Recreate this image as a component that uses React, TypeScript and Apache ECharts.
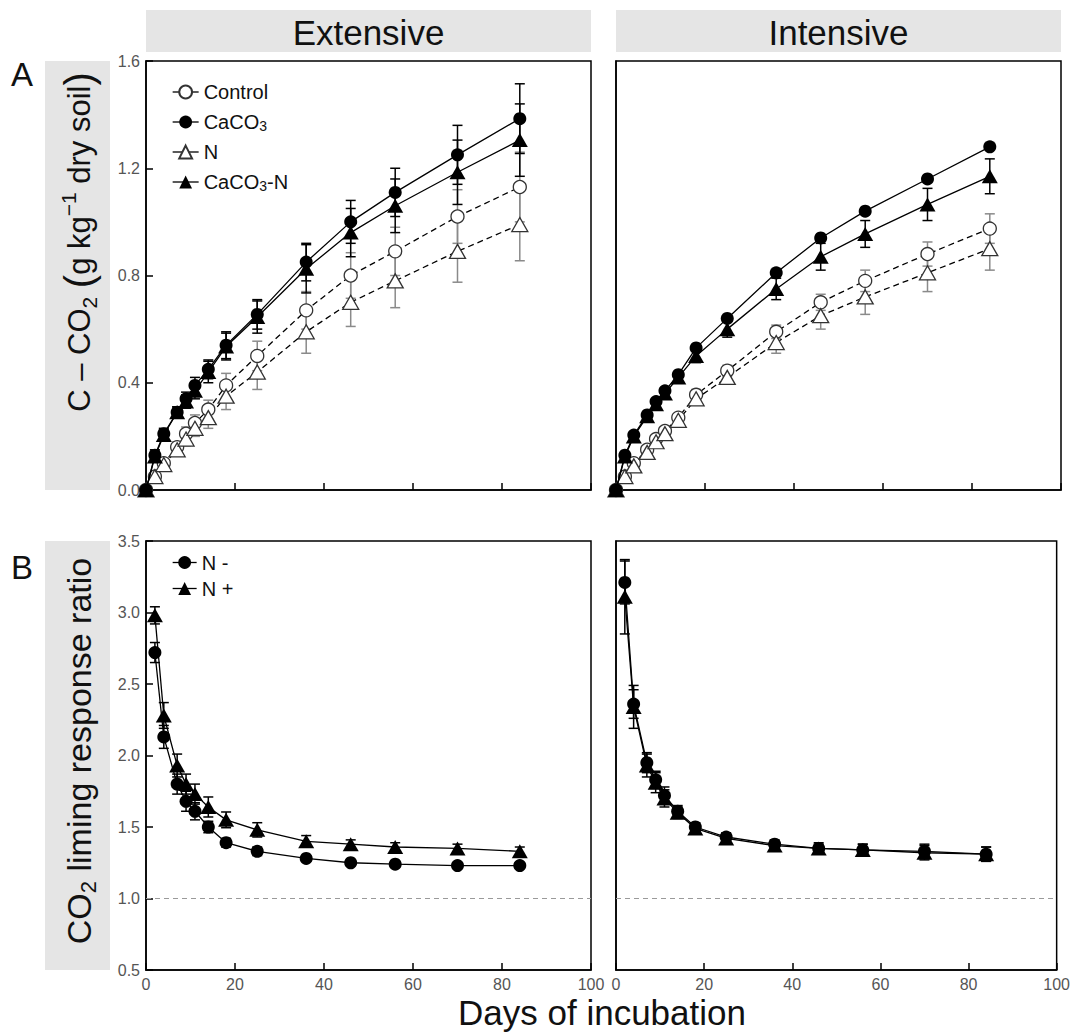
import React, { useEffect, useRef } from 'react';
import * as echarts from 'echarts';

const FONT = "'Liberation Sans', Arial, Helvetica, sans-serif";

// ---------- data ----------
const daysA = [0, 2, 4, 7, 9, 11, 14, 18, 25, 36, 46, 56, 70, 84];
const daysB = [2, 4, 7, 9, 11, 14, 18, 25, 36, 46, 56, 70, 84];

// Panel A, Extensive: C-CO2 (g kg-1 dry soil)
const extControl = [0, 0.05, 0.10, 0.16, 0.21, 0.25, 0.30, 0.39, 0.50, 0.67, 0.80, 0.89, 1.02, 1.13];
const extControlErr = [0, 0.01, 0.015, 0.02, 0.025, 0.03, 0.035, 0.045, 0.055, 0.07, 0.085, 0.09, 0.10, 0.13];
const extCaCO3 = [0, 0.13, 0.21, 0.29, 0.34, 0.39, 0.45, 0.54, 0.655, 0.85, 1.0, 1.11, 1.25, 1.385];
const extCaCO3Err = [0, 0.02, 0.02, 0.02, 0.025, 0.03, 0.035, 0.05, 0.055, 0.07, 0.08, 0.09, 0.11, 0.13];
const extN = [0, 0.05, 0.095, 0.15, 0.19, 0.23, 0.27, 0.35, 0.44, 0.59, 0.70, 0.78, 0.89, 0.99];
const extNErr = [0, 0.01, 0.015, 0.02, 0.025, 0.03, 0.04, 0.05, 0.065, 0.08, 0.09, 0.10, 0.115, 0.135];
const extCaCO3N = [0, 0.125, 0.205, 0.29, 0.33, 0.37, 0.44, 0.535, 0.645, 0.825, 0.96, 1.06, 1.185, 1.305];
const extCaCO3NErr = [0, 0.02, 0.02, 0.02, 0.025, 0.03, 0.04, 0.05, 0.06, 0.09, 0.09, 0.10, 0.12, 0.135];

// Panel A, Intensive
const intControl = [0, 0.05, 0.10, 0.15, 0.19, 0.22, 0.27, 0.355, 0.445, 0.59, 0.70, 0.78, 0.88, 0.975];
const intControlErr = [0, 0.01, 0.01, 0.01, 0.01, 0.015, 0.015, 0.02, 0.02, 0.025, 0.03, 0.04, 0.045, 0.055];
const intCaCO3 = [0, 0.13, 0.205, 0.28, 0.33, 0.37, 0.43, 0.53, 0.64, 0.81, 0.94, 1.04, 1.16, 1.28];
const intCaCO3Err = [0, 0.005, 0.005, 0.005, 0.006, 0.006, 0.007, 0.008, 0.008, 0.01, 0.01, 0.01, 0.01, 0.01];
const intN = [0, 0.05, 0.09, 0.14, 0.18, 0.21, 0.26, 0.34, 0.42, 0.55, 0.65, 0.72, 0.81, 0.90];
const intNErr = [0, 0.01, 0.01, 0.01, 0.015, 0.015, 0.02, 0.02, 0.025, 0.04, 0.05, 0.065, 0.07, 0.08];
const intCaCO3N = [0, 0.125, 0.20, 0.275, 0.32, 0.36, 0.42, 0.50, 0.60, 0.75, 0.87, 0.955, 1.065, 1.17];
const intCaCO3NErr = [0, 0.01, 0.01, 0.01, 0.015, 0.015, 0.02, 0.025, 0.03, 0.04, 0.05, 0.05, 0.06, 0.065];

// Panel B: CO2 liming response ratio
const extNminus = [2.72, 2.13, 1.80, 1.68, 1.61, 1.50, 1.39, 1.33, 1.28, 1.25, 1.24, 1.23, 1.23];
const extNminusErr = [0.07, 0.08, 0.07, 0.07, 0.06, 0.04, 0.03, 0.03, 0.02, 0.02, 0.02, 0.02, 0.02];
const extNplus = [2.98, 2.28, 1.93, 1.80, 1.73, 1.64, 1.55, 1.48, 1.40, 1.38, 1.36, 1.35, 1.33];
const extNplusErr = [0.06, 0.09, 0.08, 0.07, 0.07, 0.07, 0.055, 0.05, 0.04, 0.03, 0.03, 0.03, 0.03];
const intNminus = [3.21, 2.36, 1.95, 1.83, 1.72, 1.61, 1.50, 1.43, 1.38, 1.35, 1.34, 1.33, 1.31];
const intNminusErr = [0.15, 0.10, 0.07, 0.06, 0.06, 0.04, 0.03, 0.03, 0.03, 0.03, 0.04, 0.05, 0.05];
const intNplus = [3.11, 2.34, 1.93, 1.81, 1.70, 1.60, 1.49, 1.42, 1.37, 1.35, 1.34, 1.32, 1.31];
const intNplusErr = [0.26, 0.15, 0.08, 0.07, 0.06, 0.04, 0.03, 0.03, 0.03, 0.04, 0.04, 0.05, 0.05];

const legendA = ['Control', 'CaCO3', 'N', 'CaCO3-N'];
const legendB = ['N -', 'N +'];
const xTicks = { min: 0, max: 100, interval: 20 };
const yTicksA = { min: 0, max: 1.6, interval: 0.4 };
const yTicksB = { min: 0.5, max: 3.5, interval: 0.5 };

// ---------- helpers ----------
const pairs = (xs: number[], ys: number[]) => xs.map((x, i) => [x, ys[i]]);
const triples = (xs: number[], ys: number[], es: number[]) => xs.map((x, i) => [x, ys[i], es[i]]);

function lineSeries(name: string, axis: number, xs: number[], ys: number[], kind: 'circle' | 'triangle', filled: boolean, dashed: boolean) {
  return {
    type: 'line',
    name,
    xAxisIndex: axis,
    yAxisIndex: axis,
    data: pairs(xs, ys),
    symbol: kind,
    symbolSize: kind === 'circle' ? 13 : [16, 14],
    showSymbol: true,
    z: filled ? 4 : 3,
    lineStyle: { color: '#000', width: 1.3, type: dashed ? [6, 4] : 'solid' },
    itemStyle: filled
      ? { color: '#000', borderColor: '#000', borderWidth: 0 }
      : { color: '#fff', borderColor: '#333', borderWidth: 1.3 },
    emphasis: { disabled: true },
  };
}

function errorSeries(axis: number, xs: number[], ys: number[], es: number[], color: string) {
  return {
    type: 'custom',
    xAxisIndex: axis,
    yAxisIndex: axis,
    silent: true,
    z: 2,
    encode: { x: 0, y: 1 },
    data: triples(xs, ys, es),
    renderItem: (_params: any, api: any) => {
      const x = api.value(0);
      const y = api.value(1);
      const e = api.value(2);
      const p1 = api.coord([x, y + e]);
      const p2 = api.coord([x, y - e]);
      const hw = 5;
      const st = { stroke: color, lineWidth: 1.5 };
      return {
        type: 'group',
        children: [
          { type: 'line', shape: { x1: p1[0], y1: p1[1], x2: p2[0], y2: p2[1] }, style: st },
          { type: 'line', shape: { x1: p1[0] - hw, y1: p1[1], x2: p1[0] + hw, y2: p1[1] }, style: st },
          { type: 'line', shape: { x1: p2[0] - hw, y1: p2[1], x2: p2[0] + hw, y2: p2[1] }, style: st },
        ],
      };
    },
  };
}

const refLine = {
  silent: true,
  symbol: 'none',
  label: { show: false },
  lineStyle: { color: '#9a9a9a', type: [5, 4], width: 1 },
  data: [{ yAxis: 1 }],
};

const GREY = '#8a8a8a';

function buildOption() {
  const gridBase = { show: true, borderColor: '#000', borderWidth: 1.5, backgroundColor: 'transparent' };
  const grid = [
    { ...gridBase, left: 146, top: 61, width: 445, height: 429 },
    { ...gridBase, left: 616, top: 61, width: 445, height: 429 },
    { ...gridBase, left: 146, top: 541, width: 445, height: 429 },
    { ...gridBase, left: 616, top: 541, width: 445, height: 429 },
  ];
  const axisLine = { show: true, lineStyle: { color: '#000', width: 1.5 } };
  const tickStyle = { color: '#000', width: 1.5 };
  const xAxis = [0, 1, 2, 3].map((i) => ({
    type: 'value',
    gridIndex: i,
    ...xTicks,
    axisLine,
    axisTick: { show: true, inside: true, length: 7, lineStyle: tickStyle },
    axisLabel: { show: i >= 2, color: '#555', fontSize: 16, fontFamily: FONT, margin: 6 },
    splitLine: { show: false },
  }));
  const yAxis = [0, 1, 2, 3].map((i) => ({
    type: 'value',
    gridIndex: i,
    ...(i < 2 ? yTicksA : yTicksB),
    axisLine,
    axisTick: { show: i % 2 === 0, inside: true, length: 7, lineStyle: tickStyle },
    axisLabel: {
      show: i % 2 === 0,
      color: '#555',
      fontSize: 16,
      fontFamily: FONT,
      margin: 6,
      formatter: (v: number) => v.toFixed(1),
    },
    splitLine: { show: false },
  }));

  const series: any[] = [
    // Extensive A
    errorSeries(0, daysA, extControl, extControlErr, GREY),
    errorSeries(0, daysA, extN, extNErr, GREY),
    errorSeries(0, daysA, extCaCO3, extCaCO3Err, '#000'),
    errorSeries(0, daysA, extCaCO3N, extCaCO3NErr, '#000'),
    lineSeries('Control', 0, daysA, extControl, 'circle', false, true),
    lineSeries('CaCO3', 0, daysA, extCaCO3, 'circle', true, false),
    lineSeries('N', 0, daysA, extN, 'triangle', false, true),
    lineSeries('CaCO3-N', 0, daysA, extCaCO3N, 'triangle', true, false),
    // Intensive A
    errorSeries(1, daysA, intControl, intControlErr, GREY),
    errorSeries(1, daysA, intN, intNErr, GREY),
    errorSeries(1, daysA, intCaCO3, intCaCO3Err, '#000'),
    errorSeries(1, daysA, intCaCO3N, intCaCO3NErr, '#000'),
    lineSeries('Control', 1, daysA, intControl, 'circle', false, true),
    lineSeries('CaCO3', 1, daysA, intCaCO3, 'circle', true, false),
    lineSeries('N', 1, daysA, intN, 'triangle', false, true),
    lineSeries('CaCO3-N', 1, daysA, intCaCO3N, 'triangle', true, false),
    // Extensive B
    errorSeries(2, daysB, extNminus, extNminusErr, '#000'),
    errorSeries(2, daysB, extNplus, extNplusErr, '#000'),
    { ...lineSeries('N -', 2, daysB, extNminus, 'circle', true, false), markLine: refLine },
    lineSeries('N +', 2, daysB, extNplus, 'triangle', true, false),
    // Intensive B
    errorSeries(3, daysB, intNminus, intNminusErr, '#000'),
    errorSeries(3, daysB, intNplus, intNplusErr, '#000'),
    { ...lineSeries('N -', 3, daysB, intNminus, 'circle', true, false), markLine: refLine },
    lineSeries('N +', 3, daysB, intNplus, 'triangle', true, false),
  ];

  const legendText = {
    fontSize: 20,
    color: '#111',
    fontFamily: FONT,
    lineHeight: 22,
    rich: { s: { fontSize: 14, fontFamily: FONT, color: '#111', lineHeight: 11, verticalAlign: 'bottom' } },
  };

  const legend = [
    {
      data: legendA,
      orient: 'vertical',
      left: 172,
      top: 81,
      padding: 0,
      itemWidth: 26,
      itemHeight: 16,
      itemGap: 8,
      selectedMode: false,
      lineStyle: { type: 'solid', width: 1.3 },
      textStyle: legendText,
      formatter: (n: string) => n.replace('CaCO3', 'CaCO{s|3}'),
    },
    {
      data: legendB,
      orient: 'vertical',
      left: 172,
      top: 552,
      padding: 0,
      itemWidth: 24,
      itemHeight: 16,
      itemGap: 5,
      selectedMode: false,
      lineStyle: { type: 'solid', width: 1.3 },
      textStyle: { ...legendText, lineHeight: 21 },
    },
  ];

  const txt = (s: any) => ({ fontFamily: FONT, fill: '#111', ...s });
  const graphic = [
    { type: 'rect', silent: true, shape: { x: 146, y: 10, width: 445, height: 42 }, style: { fill: '#e5e5e5' } },
    { type: 'rect', silent: true, shape: { x: 616, y: 10, width: 445, height: 42 }, style: { fill: '#e5e5e5' } },
    { type: 'rect', silent: true, shape: { x: 45, y: 61, width: 65, height: 429 }, style: { fill: '#e5e5e5' } },
    { type: 'rect', silent: true, shape: { x: 45, y: 541, width: 65, height: 429 }, style: { fill: '#e5e5e5' } },
    { type: 'text', x: 368.5, y: 32, style: txt({ text: 'Extensive', fontSize: 35, align: 'center', verticalAlign: 'middle' }) },
    { type: 'text', x: 838.5, y: 32, style: txt({ text: 'Intensive', fontSize: 35, align: 'center', verticalAlign: 'middle' }) },
    { type: 'text', x: 22, y: 74, style: txt({ text: 'A', fontSize: 33, align: 'center', verticalAlign: 'middle' }) },
    { type: 'text', x: 22, y: 567, style: txt({ text: 'B', fontSize: 33, align: 'center', verticalAlign: 'middle' }) },
    {
      type: 'text',
      x: 79,
      y: 242,
      rotation: Math.PI / 2,
      style: txt({
        text: 'C – CO{sb|2} {p|(}g kg{sp|−1} dry soil{p|)}',
        fontSize: 31,
        lineHeight: 36,
        align: 'center',
        verticalAlign: 'middle',
        rich: {
          sb: { fontSize: 21, fontFamily: FONT, fill: '#111', lineHeight: 14, verticalAlign: 'bottom' },
          sp: { fontSize: 21, fontFamily: FONT, fill: '#111', lineHeight: 14, verticalAlign: 'top' },
          p: { fontSize: 40, fontFamily: FONT, fill: '#111', lineHeight: 42 },
        },
      }),
    },
    {
      type: 'text',
      x: 79,
      y: 751,
      rotation: Math.PI / 2,
      style: txt({
        text: 'CO{sb|2} liming response ratio',
        fontSize: 34,
        lineHeight: 40,
        align: 'center',
        verticalAlign: 'middle',
        rich: {
          sb: { fontSize: 22, fontFamily: FONT, fill: '#111', lineHeight: 14, verticalAlign: 'bottom' },
        },
      }),
    },
    { type: 'text', x: 602, y: 1012, style: txt({ text: 'Days of incubation', fontSize: 35, align: 'center', verticalAlign: 'middle' }) },
  ];

  return {
    animation: false,
    backgroundColor: '#fff',
    textStyle: { fontFamily: FONT },
    grid,
    xAxis,
    yAxis,
    legend,
    series,
    graphic,
  };
}

export default function App() {
  const ref = useRef<HTMLDivElement>(null);
  useEffect(() => {
    if (!ref.current) return;
    const chart = echarts.init(ref.current, null, { renderer: 'svg' });
    chart.setOption(buildOption() as any);
    return () => chart.dispose();
  }, []);
  return <div ref={ref} style={{ position: 'absolute', left: 0, top: 0, width: 1073, height: 1032 }} />;
}
